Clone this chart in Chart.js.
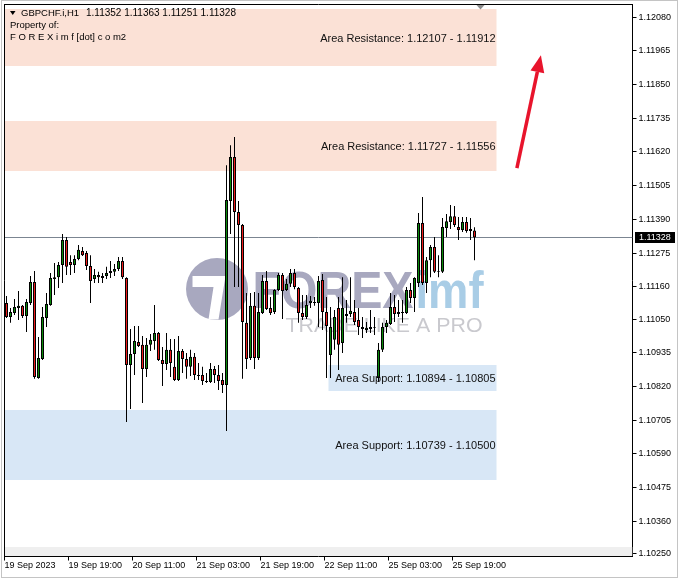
<!DOCTYPE html>
<html>
<head>
<meta charset="utf-8">
<script src="https://cdn.jsdelivr.net/npm/chart.js@4.4.0/dist/chart.umd.min.js"></script>
<style>
html, body { margin: 0; padding: 0; background: #fff; }
canvas { display: block; }
</style>
</head>
<body>
<canvas id="chart" width="681" height="579"></canvas>
<script>
// GBPCHF H1 candles
const symbol = 'GBPCHF.i,H1';

const opens = [
  1.11105, 1.11057, 1.11071, 1.11088, 1.11095, 1.11060, 1.11105, 1.11176, 1.10849, 1.10914,
  1.11054, 1.11098, 1.11187, 1.11193, 1.11234, 1.11320, 1.11245, 1.11234, 1.11255, 1.11282,
  1.11275, 1.11231, 1.11187, 1.11200, 1.11190, 1.11197, 1.11207, 1.11211, 1.11221, 1.11248,
  1.11190, 1.10893, 1.10931, 1.10972, 1.10962, 1.10880, 1.10962, 1.10975, 1.11002, 1.10910,
  1.10897, 1.10945, 1.10887, 1.10842, 1.10941, 1.10914, 1.10887, 1.10921, 1.10859, 1.10859,
  1.10839, 1.10835, 1.10880, 1.10859, 1.10842, 1.10825, 1.11453, 1.11603, 1.11415, 1.11371,
  1.11037, 1.10917, 1.11095, 1.10917, 1.11071, 1.11180, 1.11088, 1.11074, 1.11149, 1.11200,
  1.11149, 1.11170, 1.11207, 1.11156, 1.11071, 1.11057, 1.11105, 1.11108, 1.11105, 1.11183,
  1.11074, 1.10927, 1.10979, 1.11088, 1.10968, 1.11067, 1.11067, 1.11074, 1.11047, 1.11023,
  1.11013, 1.11023, 1.11020, 1.10849, 1.10945, 1.11023, 1.11033, 1.11091, 1.11067, 1.11074,
  1.11071, 1.11149, 1.11122, 1.11173, 1.11378, 1.11173, 1.11251, 1.11296, 1.11214, 1.11211,
  1.11361, 1.11381, 1.11401, 1.11364, 1.11354, 1.11381, 1.11357, 1.11352
];
const highs = [
  1.11129, 1.11088, 1.11118, 1.11146, 1.11098, 1.11118, 1.11197, 1.11214, 1.10989, 1.11091,
  1.11139, 1.11207, 1.11241, 1.11245, 1.11340, 1.11330, 1.11268, 1.11268, 1.11303, 1.11296,
  1.11282, 1.11268, 1.11221, 1.11211, 1.11207, 1.11228, 1.11248, 1.11238, 1.11262, 1.11262,
  1.11193, 1.11016, 1.11026, 1.11026, 1.10992, 1.10985, 1.10999, 1.11098, 1.11006, 1.10955,
  1.11002, 1.10982, 1.10982, 1.10992, 1.10948, 1.10934, 1.10945, 1.10934, 1.10900, 1.10887,
  1.10866, 1.10900, 1.10890, 1.10893, 1.10866, 1.11575, 1.11643, 1.11671, 1.11453, 1.11374,
  1.11139, 1.11139, 1.11142, 1.11139, 1.11200, 1.11214, 1.11125, 1.11152, 1.11207, 1.11207,
  1.11187, 1.11221, 1.11221, 1.11159, 1.11132, 1.11132, 1.11129, 1.11125, 1.11197, 1.11204,
  1.11125, 1.11091, 1.11081, 1.11125, 1.11193, 1.11115, 1.11193, 1.11115, 1.11088, 1.11057,
  1.11040, 1.11081, 1.11057, 1.10968, 1.11037, 1.11047, 1.11139, 1.11132, 1.11115, 1.11115,
  1.11159, 1.11173, 1.11193, 1.11412, 1.11466, 1.11262, 1.11303, 1.11330, 1.11268, 1.11395,
  1.11408, 1.11439, 1.11436, 1.11398, 1.11398, 1.11398, 1.11395, 1.11363
];
const lows = [
  1.11054, 1.11037, 1.11064, 1.11047, 1.11054, 1.11006, 1.11098, 1.10846, 1.10846, 1.10910,
  1.11023, 1.11095, 1.11132, 1.11156, 1.11173, 1.11200, 1.11200, 1.11207, 1.11251, 1.11265,
  1.11217, 1.11105, 1.11173, 1.11173, 1.11173, 1.11187, 1.11190, 1.11197, 1.11214, 1.11187,
  1.10699, 1.10743, 1.10859, 1.10955, 1.10764, 1.10852, 1.10941, 1.10945, 1.10907, 1.10822,
  1.10876, 1.10852, 1.10839, 1.10839, 1.10866, 1.10846, 1.10856, 1.10842, 1.10842, 1.10825,
  1.10832, 1.10832, 1.10832, 1.10808, 1.10798, 1.10668, 1.11340, 1.11159, 1.11159, 1.10846,
  1.10880, 1.10910, 1.10880, 1.10910, 1.11067, 1.11081, 1.11064, 1.11067, 1.11146, 1.11050,
  1.11146, 1.11159, 1.11152, 1.11037, 1.11047, 1.11050, 1.11088, 1.11095, 1.11023, 1.11013,
  1.10849, 1.10849, 1.10945, 1.10876, 1.10934, 1.11037, 1.11057, 1.11030, 1.10996, 1.10985,
  1.11002, 1.11002, 1.10996, 1.10835, 1.10938, 1.11002, 1.11030, 1.11040, 1.11057, 1.11037,
  1.11067, 1.11105, 1.11074, 1.11159, 1.11166, 1.11139, 1.11193, 1.11207, 1.11193, 1.11207,
  1.11330, 1.11357, 1.11364, 1.11320, 1.11347, 1.11344, 1.11320, 1.11251
];
const closes = [
  1.11057, 1.11074, 1.11091, 1.11095, 1.11060, 1.11108, 1.11176, 1.10852, 1.10917, 1.11057,
  1.11101, 1.11190, 1.11193, 1.11234, 1.11320, 1.11228, 1.11234, 1.11255, 1.11286, 1.11268,
  1.11231, 1.11180, 1.11200, 1.11193, 1.11197, 1.11207, 1.11214, 1.11221, 1.11248, 1.11193,
  1.10893, 1.10931, 1.10975, 1.10958, 1.10880, 1.10962, 1.10979, 1.11002, 1.10910, 1.10897,
  1.10945, 1.10900, 1.10842, 1.10941, 1.10914, 1.10887, 1.10921, 1.10859, 1.10856, 1.10839,
  1.10835, 1.10880, 1.10859, 1.10839, 1.10825, 1.11456, 1.11603, 1.11415, 1.11371, 1.11040,
  1.10914, 1.11095, 1.10917, 1.11074, 1.11180, 1.11084, 1.11071, 1.11149, 1.11200, 1.11146,
  1.11170, 1.11207, 1.11159, 1.11071, 1.11057, 1.11098, 1.11112, 1.11105, 1.11180, 1.11074,
  1.11026, 1.11023, 1.11057, 1.10962, 1.11088, 1.11060, 1.11078, 1.11040, 1.11023, 1.11016,
  1.11020, 1.11016, 1.11023, 1.10945, 1.11023, 1.11037, 1.11091, 1.11067, 1.11074, 1.11071,
  1.11149, 1.11122, 1.11190, 1.11378, 1.11173, 1.11251, 1.11296, 1.11211, 1.11211, 1.11364,
  1.11384, 1.11401, 1.11371, 1.11354, 1.11381, 1.11350, 1.11350, 1.11328
];

// axis labels
const tickIndex = [0, 16, 32, 48, 64, 80, 96, 112];
const tickLabels = ['19 Sep 2023', '19 Sep 19:00', '20 Sep 11:00', '21 Sep 03:00',
  '21 Sep 19:00', '22 Sep 11:00', '25 Sep 03:00', '25 Sep 19:00'];
const priceTicks = [1.12080, 1.11965, 1.11850, 1.11735, 1.11620, 1.11505, 1.11390, 1.11275,
  1.11160, 1.11050, 1.10935, 1.10820, 1.10705, 1.10590, 1.10475, 1.10360, 1.10250];

// support / resistance boxes (prices, bar index range)
const zoneNames = ['Area Resistance', 'Area Resistance', 'Area Support', 'Area Support'];
const zoneHigh = [1.12107, 1.11727, 1.10894, 1.10739];
const zoneLow = [1.11912, 1.11556, 1.10805, 1.10500];
const zoneFrom = [-10, -10, 80.5, -10];
const zoneTo = [122.5, 122.5, 122.5, 122.5];

// red arrow (bar index, price)
const arrowTail = [127.6, 1.11565];
const arrowHead = [133.6, 1.11950];

const totalSlots = 157;   // bars + empty chart shift on the right
const yMin = 1.10240, yMax = 1.12123;

// hourly categories, weekend skipped
const categories = [];
let t = Date.UTC(2023, 8, 19, 3);
while (categories.length < totalSlots) {
  const d = new Date(t);
  const day = d.getUTCDay();
  if (day !== 0 && day !== 6) categories.push(d.toISOString().slice(0, 13) + ':00');
  t += 3600000;
}

const FONT = "'Liberation Sans', Arial, sans-serif";
const BULL = '#0a8a0a', BEAR = '#ee1c1c';
const last = opens.length - 1;

const wicks = lows.map((l, i) => [l, highs[i]]);
const bodies = opens.map((o, i) => [o, closes[i]]);
const bodyColors = opens.map((o, i) => closes[i] > o ? BULL : BEAR);

function fitText(ctx, text, x, base, width, font, color) {
  ctx.save();
  ctx.font = font;
  const w = ctx.measureText(text).width;
  ctx.translate(x, base);
  ctx.scale(width / w, 1);
  ctx.fillStyle = color;
  ctx.textBaseline = 'alphabetic';
  ctx.fillText(text, 0, 0);
  ctx.restore();
}

const decor = {
  id: 'decor',
  beforeDraw(chart) {
    const ctx = chart.ctx;
    ctx.save();
    ctx.fillStyle = '#fff';
    ctx.fillRect(0, 0, chart.width, chart.height);
    ctx.restore();
  },
  beforeDatasetsDraw(chart) {
    const { ctx, chartArea: a, scales: { x, y } } = chart;
    ctx.save();
    ctx.beginPath();
    ctx.rect(a.left, a.top, a.right - a.left, a.bottom - a.top);
    ctx.clip();

    // strip at the bottom of the plot
    ctx.fillStyle = '#efefef';
    ctx.fillRect(a.left, a.bottom - 9.5, a.right - a.left, 9);

    // zones
    zoneNames.forEach((name, i) => {
      const x0 = x.getPixelForValue(zoneFrom[i]);
      const x1 = x.getPixelForValue(zoneTo[i]);
      const y0 = Math.round(y.getPixelForValue(zoneHigh[i]));
      const y1 = Math.round(y.getPixelForValue(zoneLow[i]));
      ctx.fillStyle = name.indexOf('Resistance') >= 0 ? '#fbe1d6' : '#d8e7f6';
      ctx.fillRect(x0, y0, x1 - x0, y1 - y0);
    });

    // watermark
    const L = a.left, T = a.top;
    ctx.fillStyle = '#a8a8bf';
    ctx.beginPath();
    ctx.arc(L + 212.5, T + 284.5, 31, 0, Math.PI * 2);
    ctx.fill();
    ctx.fillStyle = '#fff';
    ctx.beginPath();
    ctx.moveTo(L + 188, T + 271.5);
    ctx.lineTo(L + 221, T + 271.5);
    ctx.lineTo(L + 214, T + 315);
    ctx.lineTo(L + 204, T + 315);
    ctx.lineTo(L + 209, T + 282.5);
    ctx.lineTo(L + 188, T + 282.5);
    ctx.closePath();
    ctx.fill();
    fitText(ctx, 'FOREX', L + 248, T + 303.5, 161, 'bold 52px ' + FONT, '#a8a8bf');
    fitText(ctx, 'imf', L + 411, T + 303.5, 68, 'bold 52px ' + FONT, '#a9cde6');
    fitText(ctx, 'TRADE LIKE A PRO', L + 281, T + 327.5, 197, '21px ' + FONT, '#c9c9ce');

    // current price line
    const py = Math.floor(y.getPixelForValue(closes[last])) + 0.5;
    ctx.strokeStyle = '#7b8591';
    ctx.lineWidth = 1;
    ctx.beginPath();
    ctx.moveTo(a.left, py);
    ctx.lineTo(a.right, py);
    ctx.stroke();
    ctx.restore();
  },
  afterDatasetsDraw(chart) {
    const { ctx, chartArea: a, scales: { x, y } } = chart;
    ctx.save();

    // zone captions
    ctx.font = '11px ' + FONT;
    ctx.fillStyle = '#111';
    ctx.textAlign = 'right';
    ctx.textBaseline = 'middle';
    zoneNames.forEach((name, i) => {
      const x1 = x.getPixelForValue(zoneTo[i]);
      const y0 = Math.max(y.getPixelForValue(zoneHigh[i]), a.top);
      const y1 = y.getPixelForValue(zoneLow[i]);
      ctx.fillText(name + ': ' + zoneHigh[i].toFixed(5) + ' - ' + zoneLow[i].toFixed(5), x1 - 1, (y0 + y1) / 2 + 1);
    });

    // arrow
    const ax0 = x.getPixelForValue(arrowTail[0]), ay0 = y.getPixelForValue(arrowTail[1]);
    const ax1 = x.getPixelForValue(arrowHead[0]), ay1 = y.getPixelForValue(arrowHead[1]);
    const ang = Math.atan2(ay1 - ay0, ax1 - ax0);
    const headLen = 17, headHalf = 7;
    const bx = ax1 - headLen * Math.cos(ang), by = ay1 - headLen * Math.sin(ang);
    ctx.strokeStyle = '#e8142c';
    ctx.fillStyle = '#e8142c';
    ctx.lineWidth = 3.5;
    ctx.beginPath();
    ctx.moveTo(ax0, ay0);
    ctx.lineTo(bx, by);
    ctx.stroke();
    ctx.beginPath();
    ctx.moveTo(ax1, ay1);
    ctx.lineTo(bx + headHalf * Math.sin(ang), by - headHalf * Math.cos(ang));
    ctx.lineTo(bx - headHalf * Math.sin(ang), by + headHalf * Math.cos(ang));
    ctx.closePath();
    ctx.fill();

    // chart shift marker
    const mx = x.getPixelForValue(118.5);
    ctx.fillStyle = '#8c8c8c';
    ctx.beginPath();
    ctx.moveTo(mx - 4, a.top + 0.5);
    ctx.lineTo(mx + 4, a.top + 0.5);
    ctx.lineTo(mx, a.top + 5);
    ctx.closePath();
    ctx.fill();

    // header
    ctx.fillStyle = '#000';
    ctx.beginPath();
    ctx.moveTo(10, 11);
    ctx.lineTo(15.5, 11);
    ctx.lineTo(12.75, 15);
    ctx.closePath();
    ctx.fill();
    ctx.textAlign = 'left';
    ctx.textBaseline = 'middle';
    ctx.font = '9.5px ' + FONT;
    ctx.fillText(symbol, 21, 13);
    ctx.font = '10px ' + FONT;
    ctx.fillText([opens[last], highs[last], lows[last], closes[last]].map(v => v.toFixed(5)).join(' '), 86, 13);
    ctx.font = '9.5px ' + FONT;
    ctx.fillText('Property of:', 10, 25);
    ctx.fillText('F O R E X i m f [dot] c o m2', 10, 37);

    // frame (top and left; bottom/right come from the axes)
    ctx.strokeStyle = '#000';
    ctx.lineWidth = 1;
    ctx.beginPath();
    ctx.moveTo(4, a.top);
    ctx.lineTo(a.right + 0.5, a.top);
    ctx.moveTo(4.5, a.top);
    ctx.lineTo(4.5, a.bottom + 0.5);
    ctx.stroke();

    // window border
    ctx.strokeStyle = '#c4c4c4';
    ctx.strokeRect(1.5, 0.5, 676, 577);

    // current price tag
    const py = Math.floor(y.getPixelForValue(closes[last])) + 0.5;
    ctx.fillStyle = '#000';
    ctx.fillRect(a.right + 2.5, py - 5.5, 40, 11);
    ctx.fillStyle = '#fff';
    ctx.font = '9px ' + FONT;
    ctx.fillText(closes[last].toFixed(5), a.right + 6.5, py);
    ctx.restore();
  }
};

new Chart(document.getElementById('chart'), {
  type: 'bar',
  data: {
    labels: categories,
    datasets: [
      {
        label: 'body',
        data: bodies,
        order: 1,
        grouped: false,
        barThickness: 3,
        inflateAmount: 0,
        backgroundColor: bodyColors,
        borderColor: '#000',
        borderWidth: 1,
        borderSkipped: false
      },
      {
        label: 'range',
        data: wicks,
        order: 2,
        grouped: false,
        barThickness: 1,
        inflateAmount: 0,
        backgroundColor: '#000',
        borderWidth: 0
      }
    ]
  },
  options: {
    responsive: false,
    animation: false,
    layout: { padding: { left: 4.5, top: 4.5, right: 0, bottom: 0 } },
    plugins: { legend: { display: false }, tooltip: { enabled: false } },
    scales: {
      x: {
        offset: true,
        grid: { drawOnChartArea: false, offset: false, tickLength: 4, color: '#000' },
        border: { color: '#000', width: 1 },
        ticks: {
          autoSkip: false,
          maxRotation: 0,
          align: 'start',
          padding: 0,
          color: '#000',
          font: { family: FONT, size: 9 },
          callback: (v, i) => tickLabels[i]
        },
        afterBuildTicks: s => { s.ticks = tickIndex.map(v => ({ value: v - 0.5 })); },
        afterFit: s => { s.height = 22.5; s.paddingLeft = 0; s.paddingRight = 0; }
      },
      y: {
        position: 'right',
        min: yMin,
        max: yMax,
        grid: { drawOnChartArea: false, tickLength: 4, color: '#000' },
        border: { color: '#000', width: 1 },
        ticks: {
          padding: 2,
          color: '#000',
          font: { family: FONT, size: 9 },
          callback: v => v.toFixed(5)
        },
        afterBuildTicks: s => { s.ticks = priceTicks.map(v => ({ value: v })); },
        afterFit: s => { s.width = 48.5; s.paddingTop = 0; s.paddingBottom = 0; }
      }
    }
  },
  plugins: [decor]
});
</script>
</body>
</html>
